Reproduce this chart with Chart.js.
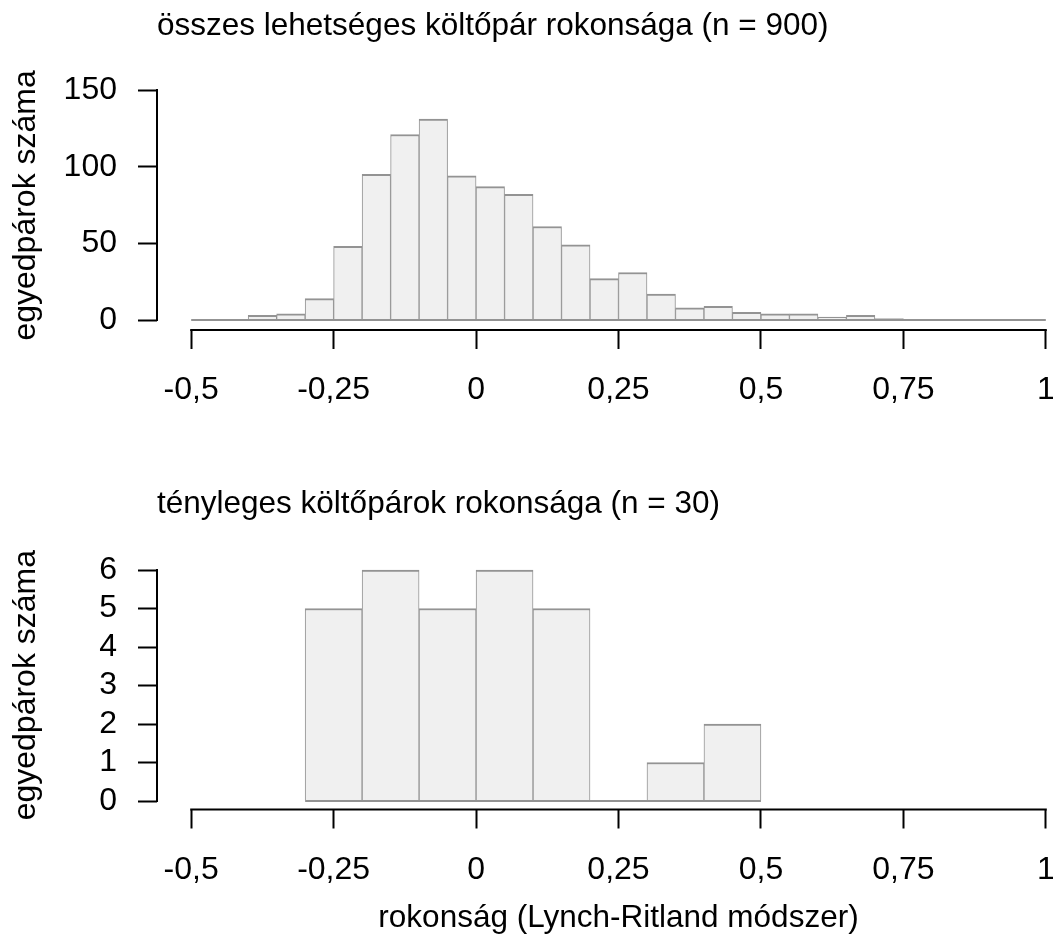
<!DOCTYPE html>
<html>
<head>
<meta charset="utf-8">
<script src="https://cdn.jsdelivr.net/npm/chart.js@4/dist/chart.umd.min.js"></script>
<style>
  body { margin: 0; background: #fff; overflow: hidden; }
  #wrap { position: relative; width: 1053px; height: 945px; overflow: hidden; }
  canvas { position: absolute; left: 0; }
</style>
</head>
<body>
<div id="wrap">
  <canvas id="topChart" width="1120" height="470" style="top:0px"></canvas>
  <canvas id="bottomChart" width="1120" height="475" style="top:470px"></canvas>
</div>
<script>
// --- data ---
// top panel: all possible pairs (n = 900), bins of 0.05
const topBreaks = [-0.5, -0.45, -0.4, -0.35, -0.3, -0.25, -0.2, -0.15, -0.1, -0.05,
  0, 0.05, 0.1, 0.15, 0.2, 0.25, 0.3, 0.35, 0.4, 0.45,
  0.5, 0.55, 0.6, 0.65, 0.7, 0.75, 0.8, 0.85, 0.9, 0.95, 1];
const topCounts = [0, 0, 3, 4, 14, 48, 95, 121, 131, 94,
  87, 82, 61, 49, 27, 31, 17, 8, 9, 5,
  4, 4, 2, 3, 1, 0, 0, 0, 0, 0];

// bottom panel: actual breeding pairs (n = 30), bins of 0.1
const bottomBreaks = [-0.3, -0.2, -0.1, 0, 0.1, 0.2, 0.3, 0.4, 0.5];
const bottomCounts = [5, 6, 5, 6, 5, 0, 1, 2];

const xTicks = [-0.5, -0.25, 0, 0.25, 0.5, 0.75, 1];
const xTickLabels = ['-0,5', '-0,25', '0', '0,25', '0,5', '0,75', '1'];
const yTicksTop = [0, 50, 100, 150];
const yTicksBottom = [0, 1, 2, 3, 4, 5, 6];

const topTitle = 'összes lehetséges költőpár rokonsága (n = 900)';
const bottomTitle = 'tényleges költőpárok rokonsága (n = 30)';
const yLabel = 'egyedpárok száma';
const xLabel = 'rokonság (Lynch-Ritland módszer)';

Chart.defaults.font.family = "'Liberation Sans', Arial, sans-serif";
Chart.defaults.font.size = 32;
Chart.defaults.color = '#000';

// R style axes: the axis line only runs from first to last tick
const rAxisLines = {
  id: 'rAxisLines',
  afterDraw(chart) {
    const { ctx, chartArea, scales: { x, y } } = chart;
    ctx.save();
    ctx.strokeStyle = '#000';
    ctx.lineWidth = 2;
    ctx.lineCap = 'square';
    ctx.beginPath();
    ctx.moveTo(x.getPixelForValue(x.ticks[0].value), chartArea.bottom);
    ctx.lineTo(x.getPixelForValue(x.ticks[x.ticks.length - 1].value), chartArea.bottom);
    ctx.moveTo(chartArea.left, y.getPixelForValue(y.ticks[0].value));
    ctx.lineTo(chartArea.left, y.getPixelForValue(y.ticks[y.ticks.length - 1].value));
    ctx.stroke();
    ctx.restore();
  }
};

function makeHist(canvasId, breaks, counts, opts) {
  // bar centred in each bin, bin edges give the width
  const bars = counts.map((c, i) => ({ x: (breaks[i] + breaks[i + 1]) / 2, y: c }));
  const base = [{ x: breaks[0], y: 0 }, { x: breaks[breaks.length - 1], y: 0 }];

  return new Chart(document.getElementById(canvasId), {
    type: 'bar',
    data: {
      datasets: [{
        type: 'line',
        data: base,
        borderColor: '#939393',
        borderWidth: 2,
        pointRadius: 0,
        order: 0
      }, {
        data: bars,
        backgroundColor: '#f0f0f0',
        borderColor: '#939393',
        borderWidth: { top: 2, left: 1, right: 1, bottom: 0 },
        borderSkipped: false,
        categoryPercentage: 1,
        barPercentage: 1,
        order: 1
      }]
    },
    options: {
      responsive: false,
      animation: false,
      events: [],
      layout: { padding: { left: 0, right: 40, top: 0, bottom: 0 } },
      plugins: {
        legend: { display: false },
        tooltip: { enabled: false },
        title: {
          display: true,
          text: opts.title,
          align: 'start',
          fullSize: false,
          color: '#000',
          font: { size: 31.5, weight: 'normal' },
          padding: opts.titlePadding
        }
      },
      scales: {
        x: {
          type: 'linear',
          min: -0.56,
          max: 1.06,
          offset: false,
          afterBuildTicks: s => { s.ticks = xTicks.map(v => ({ value: v })); },
          afterFit: s => { s.height = opts.xHeight; },
          ticks: {
            autoSkip: false,
            maxRotation: 0,
            minRotation: 0,
            padding: 22,
            color: '#000',
            callback: (v, i) => xTickLabels[i]
          },
          grid: {
            offset: false,
            drawOnChartArea: false,
            drawTicks: true,
            tickLength: 19,
            tickColor: '#000',
            tickWidth: 2
          },
          border: { display: false },
          title: opts.xTitle || { display: false }
        },
        y: {
          min: opts.yMin,
          max: opts.yMax,
          afterBuildTicks: s => { s.ticks = opts.yTicks.map(v => ({ value: v })); },
          afterFit: s => { s.width = 157; },
          ticks: { padding: 21, color: '#000' },
          grid: {
            drawOnChartArea: false,
            drawTicks: true,
            tickLength: 19,
            tickColor: '#000',
            tickWidth: 2
          },
          border: { display: false },
          title: {
            display: true,
            text: yLabel,
            color: '#000',
            padding: { top: 7, bottom: 0 }
          }
        }
      }
    },
    plugins: [rAxisLines]
  });
}

makeHist('topChart', topBreaks, topCounts, {
  title: topTitle,
  titlePadding: { top: 7.2, bottom: 35.8 },
  xHeight: 140,
  yMin: -6.5,
  yMax: 156,
  yTicks: yTicksTop
});

makeHist('bottomChart', bottomBreaks, bottomCounts, {
  title: bottomTitle,
  titlePadding: { top: 15.2, bottom: 37.8 },
  xHeight: 135.5,
  yMin: -0.22,
  yMax: 6.24,
  yTicks: yTicksBottom,
  xTitle: {
    display: true,
    text: xLabel,
    color: '#000',
    font: { size: 31.5 },
    padding: { top: 0, bottom: 7.5 }
  }
});
</script>
</body>
</html>
